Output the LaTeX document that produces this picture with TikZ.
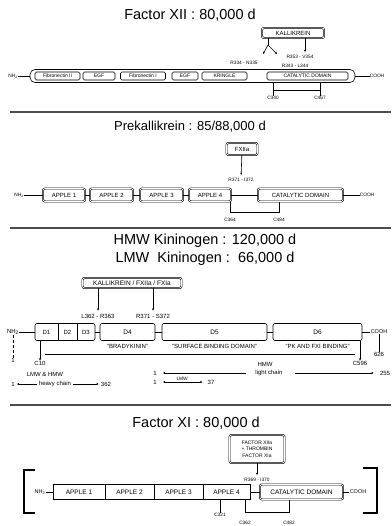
\documentclass[tikz,border=0pt]{standalone}
\usepackage{fontspec}
\setmainfont{Liberation Sans}
\usetikzlibrary{arrows.meta, positioning, calc}

\begin{document}
\begin{tikzpicture}[x=1pt, y=-1pt, line width=0.6pt,
  titre/.style={inner sep=0pt, font=\fontsize{14.5}{16}\selectfont},
  dom/.style={draw, rounded corners=1.5pt, inner sep=0pt, minimum height=8pt, font=\fontsize{5}{6}\selectfont},
  dbl/.style={draw, double, double distance=0.7pt, rounded corners=2pt, inner sep=0pt, align=center, font=\fontsize{6}{7}\selectfont},
  boite/.style={draw, inner sep=0pt, font=\fontsize{6.5}{7}\selectfont},
  pt/.style={inner sep=0pt, font=\fontsize{4.8}{5.5}\selectfont},
  pt6/.style={inner sep=0pt, font=\fontsize{6}{7}\selectfont},
  sep/.style={line width=1.6pt, black!70},
  fl/.style={-{Stealth[length=2.4pt, width=2.2pt]}},
  fl2/.style={{Stealth[length=2.4pt, width=2.2pt]}-{Stealth[length=2.4pt, width=2.2pt]}}
]
  \useasboundingbox (0,0) rectangle (391,526);

  % Facteur XII
  \node[titre] (t1) at (190,15) {Factor XII : 80,000 d};
  \node[dbl, minimum width=62pt, minimum height=10pt] (kal) at (293,33) {KALLIKREIN};
  \node[draw, rounded corners=5pt, minimum width=325pt, minimum height=13pt, inner sep=0pt] (fxii) at (192.5,76) {};
  \node[dom, minimum width=45pt] (fn2) at (57.5,76) {Fibronectin II};
  \node[dom, minimum width=32pt] (egf1) at (99,76) {EGF};
  \node[dom, minimum width=45pt] (fn1) at (143,76) {Fibronectin I};
  \node[dom, minimum width=26pt] (egf2) at (185,76) {EGF};
  \node[dom, minimum width=45pt] (kr) at (224.5,76) {KRINGLE};
  \node[dom, minimum width=81pt] (cat1) at (307.5,76) {CATALYTIC DOMAIN};
  \node[pt] (nh1) at (13,76) {NH\textsubscript{2}};
  \node[pt] (co1) at (377,76) {COOH};
  \draw (nh1) -- (fxii) -- (co1);
  % sites de coupure
  \node[pt] (r334) at (244,63) {R334 - N335};
  \node[pt] (r353) at (300,57) {R353 - V354};
  \node[pt] (r343) at (295,66) {R343 - L344};
  \coordinate (fk) at (268,45);
  \coordinate (p1) at (263,54);
  \coordinate (p2) at (277,54);
  \coordinate (p3) at (305,52);
  \draw (kal.south -| fk) -- (fk);
  \draw[fl] (fk) -- (p1);
  \draw[fl] (fk) -- (p2);
  \draw[fl] (kal.south -| p3) -- (p3);
  % pont disulfure
  \node[pt] (c340) at (273,98) {C340};
  \node[pt] (c467) at (320,98) {C467};
  \draw (c340.north |- fxii.south) -- (c340.north);
  \draw (c467.north |- fxii.south) -- (c467.north);
  \draw (c340.north |- 0,90) -- (c467.north |- 0,90);

  \draw[sep] (10,112) -- (391,112);

  % Prekallikreine
  \node[titre, font=\fontsize{13}{15}\selectfont] (t2) at (190,127) {Prekallikrein : 85/88,000 d};
  \node[dbl, minimum width=31pt, minimum height=12pt] (f12a) at (242,149) {FXIIa};
  \node[pt] (r371) at (241,180) {R371 - I372};
  \draw[fl, shorten >=3pt] (f12a) -- (r371);
  \node[pt] (nh2) at (19,195) {NH\textsubscript{2}};
  \node[dbl, minimum width=42pt, minimum height=13pt] (ap1) at (64,195) {APPLE 1};
  \node[dbl, minimum width=43pt, minimum height=13pt] (ap2) at (111.5,195) {APPLE 2};
  \node[dbl, minimum width=43pt, minimum height=13pt] (ap3) at (161.5,195) {APPLE 3};
  \node[dbl, minimum width=42pt, minimum height=13pt] (ap4) at (210,195) {APPLE 4};
  \node[dbl, minimum width=85pt, minimum height=13pt] (cat2) at (300.5,195) {CATALYTIC DOMAIN};
  \node[pt] (co2) at (367,195) {COOH};
  \draw (nh2) -- (ap1) -- (ap2) -- (ap3) -- (ap4) -- (cat2) -- (co2);
  \node[pt] (c364) at (230,220) {C364};
  \node[pt] (c484) at (279,220) {C484};
  \draw (c364.north |- ap4.south) -- (c364.north |- 0,212) -- (c484.north |- 0,212) -- (c484.north |- cat2.south);

  \draw[sep] (10,228) -- (391,228);

  % Kininogenes
  \node[titre] (t3a) at (205,241) {HMW Kininogen : 120,000 d};
  \node[titre] (t3b) at (205,259) {LMW\ \ Kininogen :\ \ 66,000 d};
  \node[dbl, minimum width=99pt, minimum height=10pt, font=\fontsize{6.5}{7}\selectfont] (kk) at (132,283) {KALLIKREIN / FXIIa / FXIa};
  \node[pt6] (s362) at (98,316) {L362 - R363};
  \node[pt6] (s371) at (153,316) {R371 - S372};
  \draw[fl, shorten >=3pt] (kk.south -| s362) -- (s362.north);
  \draw[fl, shorten >=3pt] (kk.south -| s371) -- (s371.north);
  \node[pt6] (nh3) at (13,332) {NH\textsubscript{2}};
  \node[draw, rounded corners=2pt, minimum width=60pt, minimum height=17pt, inner sep=0pt] (hc) at (65,332) {};
  \node[pt6, minimum width=23pt, minimum height=15pt] (d1) at (46.5,332) {D1};
  \node[pt6, minimum width=19pt, minimum height=15pt] (d2) at (67.5,332) {D2};
  \node[pt6, minimum width=18pt, minimum height=15pt] (d3) at (86,332) {D3};
  \draw (d1.north east) -- (d1.south east);
  \draw (d2.north east) -- (d2.south east);
  \node[boite, rounded corners=2pt, minimum width=55pt, minimum height=17pt] (d4) at (127.5,332) {D4};
  \node[boite, rounded corners=2pt, minimum width=105pt, minimum height=17pt] (d5) at (214.5,332) {D5};
  \node[boite, rounded corners=2pt, minimum width=89pt, minimum height=17pt] (d6) at (317.5,332) {D6};
  \node[pt6, font=\fontsize{5.5}{6}\selectfont] (co3) at (379,332) {COOH};
  \draw (nh3) -- (hc) -- (d4) -- (d5) -- (d6) -- (co3);
  \node[pt6] (lb4) at (127.5,346) {"BRADYKININ"};
  \node[pt6] (lb5) at (214.5,346) {"SURFACE BINDING DOMAIN"};
  \node[pt6] (lb6) at (317.5,346) {"PK AND FXI BINDING"};
  \node[pt6] (n1) at (13,360) {1};
  \node[pt6] (n626) at (379,354) {626};
  \draw[densely dashed] (nh3) -- (n1);
  \draw (co3) -- (n626);
  % pont C10 - C596
  \node[pt6] (c10) at (40,363) {C10};
  \node[pt6] (c596) at (360,363) {C596};
  \node[pt6] (hmw) at (265,364) {HMW};
  \draw[fl] (c10.north |- hc.south) -- (c10.north);
  \draw[fl] (c596.north |- d6.south) -- (c596.north);
  \coordinate (b1) at (45,354);
  \coordinate (b2) at (355,354);
  \draw (b1) -- (b2);
  % chaines
  \node[pt6] (lh) at (45,374) {LMW \& HMW};
  \node[pt6] (h1) at (13,384) {1};
  \node[pt6] (hch) at (55,384) {heavy chain};
  \node[pt6] (h362) at (106,384) {362};
  \draw[fl, shorten <=2pt, shorten >=2pt] (hch) -- (h1);
  \draw[fl, shorten <=2pt, shorten >=2pt] (hch) -- (h362);
  \node[pt6] (l1) at (155,373) {1};
  \node[pt6] (lch) at (269,373) {light chain};
  \node[pt6] (l255) at (385,373) {255};
  \draw[fl, shorten <=9pt, shorten >=6pt] (lch) -- (l1);
  \draw[fl, shorten <=12pt, shorten >=6pt] (lch) -- (l255);
  \node[pt6] (m1) at (155,382) {1};
  \node[pt6] (m37) at (211,382) {37};
  \draw[fl2, shorten <=6pt, shorten >=5pt] (m1) -- node[pt, above=1pt] (lmw) {LMW} (m37);

  \draw[sep] (10,405) -- (391,405);

  % Facteur XI
  \node[titre] (t4) at (196,423) {Factor XI : 80,000 d};
  \node[dbl, minimum width=55pt, minimum height=28pt, font=\fontsize{5}{6.5}\selectfont] (enz4) at (257,449) {FACTOR XIIa\\+ THROMBIN\\FACTOR XIa};
  \node[pt] (r369) at (257,480) {R369 - I370};
  \draw[fl, shorten >=3pt] (enz4) -- (r369);
  \node[pt6, font=\fontsize{5.5}{6}\selectfont] (nh4) at (40,492) {NH\textsubscript{2}};
  \node[boite, minimum width=52pt, minimum height=15pt] (x1) at (79,492) {APPLE 1};
  \node[boite, minimum width=49pt, minimum height=15pt] (x2) at (129.5,492) {APPLE 2};
  \node[boite, minimum width=49pt, minimum height=15pt] (x3) at (178.5,492) {APPLE 3};
  \node[boite, minimum width=47pt, minimum height=15pt] (x4) at (226.5,492) {APPLE 4};
  \node[dbl, minimum width=83pt, minimum height=15pt, font=\fontsize{6.5}{7}\selectfont] (cat4) at (301.5,492) {CATALYTIC DOMAIN};
  \node[pt6, font=\fontsize{5.5}{6}\selectfont] (co4) at (358,492) {COOH};
  \draw (nh4) -- (x1);
  \draw (x4) -- (cat4) -- (co4);
  % dimere
  \draw[line width=1.8pt] (35,470) -| (24,513) -- (35,513);
  \draw[line width=1.8pt] (363,468) -| (377,513) -- (363,513);
  \node[pt] (c321) at (220,515) {C321};
  \node[pt] (c362) at (245,523) {C362};
  \node[pt] (c482) at (289,523) {C482};
  \draw (c321.north |- x4.south) -- (c321.north);
  \draw (c362.north |- x4.south) -- (c362.north |- 0,512) -- (c482.north |- 0,512) -- (c482.north |- cat4.south);
\end{tikzpicture}
\end{document}
